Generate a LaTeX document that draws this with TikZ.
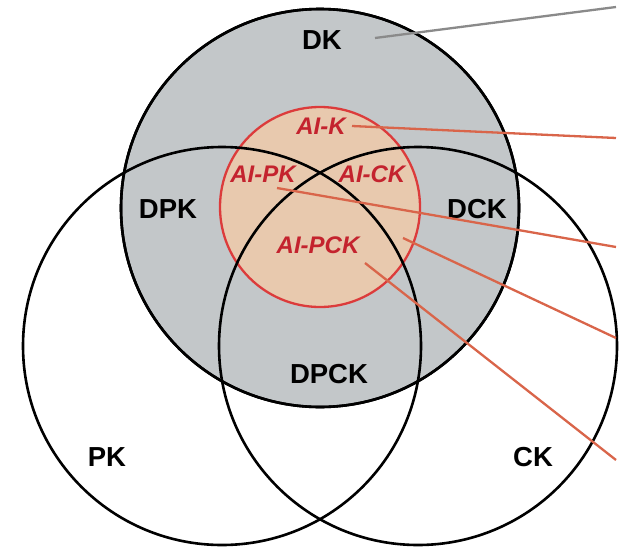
\documentclass[tikz,border=0pt]{standalone}
\usepackage{fontspec}
\setmainfont{Liberation Sans}
\definecolor{dkgray}{HTML}{C3C7C9}
\definecolor{aifill}{HTML}{E8C9AE}
\definecolor{aiedge}{HTML}{DC3B3B}
\definecolor{aitext}{HTML}{C4232E}
\definecolor{leadred}{HTML}{D9654A}
\definecolor{leadgray}{HTML}{8A8A8A}
\begin{document}
\begin{tikzpicture}[x=1pt,y=-1pt,
  setcircle/.style={circle,draw=black,line width=2.6pt,inner sep=0pt,minimum size=398pt},
  aicircle/.style={circle,draw=aiedge,fill=aifill,line width=2.3pt,inner sep=0pt,minimum size=200pt},
  lbl/.style={font=\fontsize{27.5}{27.5}\selectfont\bfseries,text=black,inner sep=0pt},
  ailbl/.style={font=\fontsize{24}{24}\selectfont\bfseries\itshape,text=aitext,inner sep=0pt},
  leader/.style={draw=leadred,line width=2.3pt},
  grayleader/.style={draw=leadgray,line width=2.3pt},
]
\useasboundingbox[fill=white] (0,0) rectangle (626,546);

% domain knowledge set and its AI subset
\node[setcircle,fill=dkgray] (dk) at (320,208) {};
\node[aicircle] (ai) at (320,207) {};

% pedagogical and content knowledge sets
\node[setcircle] (pk) at (222,346) {};
\node[setcircle] (ck) at (418,346) {};
\node[setcircle] (dkedge) at (320,208) {};

% region labels
\node[lbl] (tDK) at (322,40) {DK};
\node[lbl] (tDPK) at (168,209) {DPK};
\node[lbl] (tDCK) at (477,209) {DCK};
\node[lbl] (tDPCK) at (329,374) {DPCK};
\node[lbl] (tPK) at (107,457) {PK};
\node[lbl] (tCK) at (533,457) {CK};

\node[ailbl] (tAIK) at (321,126) {AI-K};
\node[ailbl] (tAIPK) at (263,174) {AI-PK};
\node[ailbl] (tAICK) at (372,174) {AI-CK};
\node[ailbl] (tAIPCK) at (318,245) {AI-PCK};

% leader line anchors
\coordinate (sDK) at (375,38);
\coordinate (eDK) at (616,7);
\coordinate (sAIK) at (352,126);
\coordinate (eAIK) at (616,138);
\coordinate (sAIPK) at (277,188);
\coordinate (eAIPK) at (616,247);
\coordinate (sAICK) at (403,238);
\coordinate (eAICK) at (616,338);
\coordinate (sAIPCK) at (365,263);
\coordinate (eAIPCK) at (616,460);

\draw[grayleader] (sDK) -- (eDK);
\draw[leader] (sAIK) -- (eAIK);
\draw[leader] (sAIPK) -- (eAIPK);
\draw[leader] (sAICK) -- (eAICK);
\draw[leader] (sAIPCK) -- (eAIPCK);
\end{tikzpicture}
\end{document}
